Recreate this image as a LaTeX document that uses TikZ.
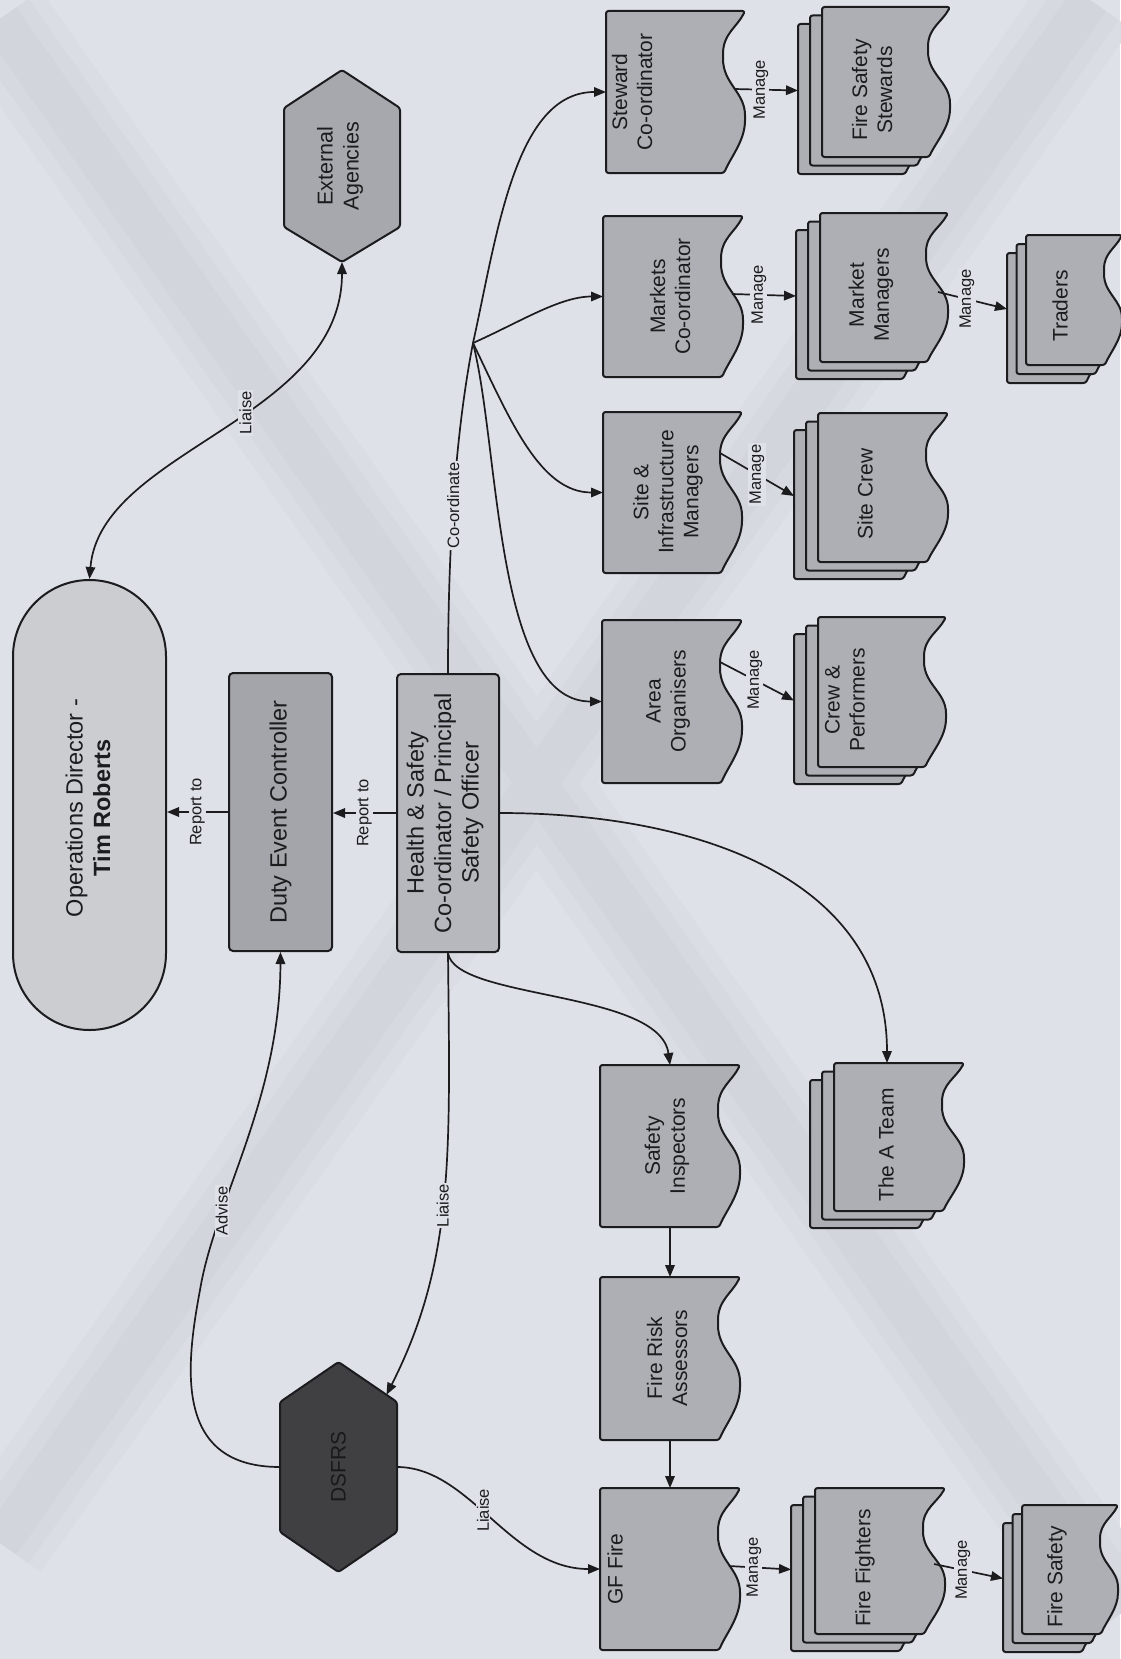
\documentclass[tikz,border=0pt]{standalone}
\usepackage{fontspec}
\setmainfont{Liberation Sans}
\usetikzlibrary{arrows.meta,calc}
\definecolor{bg}{RGB}{222,225,232}
\definecolor{banda}{RGB}{218,221,228}
\definecolor{bandb}{RGB}{214,217,224}
\definecolor{bandc}{RGB}{210,213,220}
\definecolor{ink}{RGB}{28,28,30}
\definecolor{pillc}{RGB}{203,205,209}
\definecolor{decc}{RGB}{163,165,170}
\definecolor{hsc}{RGB}{182,184,189}
\definecolor{docc}{RGB}{173,175,180}
\definecolor{extc}{RGB}{166,168,173}
\definecolor{dsc}{RGB}{64,64,67}
\definecolor{dstext}{RGB}{25,25,25}

% document outline: L T R B amplitude
\newcommand\docshape[5]{%
  \filldraw[outl, fill=docc]
  ({#1},{#2}) -- ({#3},{#2})
  .. controls ({#3-0.36*#5},{#2+0.1*(#4-#2)}) and ({#3-#5},{#2+0.14*(#4-#2)}) .. ({#3-#5},{#2+0.28*(#4-#2)})
  .. controls ({#3-#5},{#2+0.45*(#4-#2)}) and ({#3},{#2+0.5*(#4-#2)}) .. ({#3},{#2+0.66*(#4-#2)})
  .. controls ({#3},{#2+0.8*(#4-#2)}) and ({#3-0.64*#5},{#2+0.9*(#4-#2)}) .. ({#3-0.95*#5},{#4})
  -- ({#1},{#4}) -- cycle;}
% stack of three: front L T R B amplitude dx dy
\newcommand\stackshape[7]{%
  \docshape{(#1-2*#6)}{(#2+2*#7)}{(#3-2*#6)}{(#4+2*#7)}{#5}%
  \docshape{(#1-#6)}{(#2+#7)}{(#3-#6)}{(#4+#7)}{#5}%
  \docshape{#1}{#2}{#3}{#4}{#5}}
% invisible named box: name L T R B
\newcommand\docnode[5]{%
  \pgfmathsetmacro\mydw{#4-#2}%
  \pgfmathsetmacro\mydh{#5-#3}%
  \node[bbx, minimum width=\mydw pt, minimum height=\mydh pt] (#1) at ({(#2+#4)/2},{(#3+#5)/2}) {};}

\begin{document}
\begin{tikzpicture}[x=1pt,y=-1pt,
  line/.style={draw=ink, line width=1.7pt},
  arr/.style={line, -{Triangle[length=12pt,width=9.5pt]}},
  dbl/.style={line, {Triangle[length=12pt,width=9.5pt]}-{Triangle[length=12pt,width=9.5pt]}},
  lbl/.style={fill=bg, inner sep=1.2pt, rotate=90, text=ink, font=\fontsize{16.5}{18}\selectfont},
  txt/.style={rotate=90, align=center, text=ink, inner sep=0pt, font=\fontsize{21}{25}\selectfont},
  bigtxt/.style={txt, font=\fontsize{23.5}{27.5}\selectfont},
  bbx/.style={inner sep=0pt, outer sep=0pt, draw=none},
  outl/.style={draw=ink, line width=2pt, line join=round, rounded corners=2.5pt},
]
\useasboundingbox (0,0) rectangle (1120,1659);
\fill[bg] (0,0) rectangle (1120,1659);
% watermark X (soft bands)
\foreach \w/\c in {100/banda, 70/bandb, 40/bandc}{
  \draw[\c, line width=\w pt] (0,19) -- (1120,1614);
  \draw[\c, line width=\w pt] (1090,0) -- (0,1543);
}

% ---- main column ----
\node[draw=ink, line width=2pt, fill=pillc, minimum width=153pt, minimum height=450pt,
      rounded corners=76.5pt, inner sep=0pt] (pill) at (89.5,805) {};
\node[bigtxt] (pill-t) at (88,808) {Operations Director -\\\textbf{Tim Roberts}};

\node[draw=ink, line width=2pt, fill=decc, minimum width=103pt, minimum height=278pt,
      rounded corners=4pt, inner sep=0pt] (dec) at (280.5,812) {};
\node[bigtxt] (dec-t) at (dec) {Duty Event Controller};

\node[draw=ink, line width=2pt, fill=hsc, minimum width=102pt, minimum height=278pt,
      rounded corners=4pt, inner sep=0pt] (hs) at (448,813) {};
\node[bigtxt] (hs-t) at (445,813) {Health \& Safety\\Co-ordinator / Principal\\Safety Officer};

% External Agencies hexagon
\node[bbx, minimum width=116pt, minimum height=192pt] (extag) at (342,166) {};
\filldraw[outl, fill=extc] (342,70) -- (400,108) -- (400,227) -- (342,262) -- (284,227) -- (284,108) -- cycle;
\node[txt, font=\fontsize{21.5}{26}\selectfont] (extag-t) at (340,166) {External\\Agencies};

% DSFRS hexagon
\node[bbx, minimum width=117pt, minimum height=210pt] (dsfrs) at (338.5,1467) {};
\coordinate (dsfrs-ne) at (397,1402);
\filldraw[outl, fill=dsc] (338.5,1362) -- (dsfrs-ne) -- (397,1532) -- (338.5,1572) -- (280,1532) -- (280,1402) -- cycle;
\node[txt, text=dstext] (dsfrs-t) at (dsfrs) {DSFRS};

% ---- documents ----
\docshape{606}{11}{745}{173}{22}
\docshape{603}{216}{743}{377}{22}
\docshape{603}{412}{742}{573}{22}
\docshape{602}{620}{742}{783}{22}
\docshape{600}{1065}{740}{1227}{22}
\docshape{600}{1277}{740}{1440}{22}
\docshape{600}{1488}{740}{1650}{22}
\docnode{steward}{606}{11}{745}{173}
\docnode{markets}{603}{216}{743}{377}
\docnode{si}{603}{412}{742}{573}
\docnode{ao}{602}{620}{742}{783}
\docnode{safety}{600}{1065}{740}{1227}
\docnode{firerisk}{600}{1277}{740}{1440}
\docnode{gf}{600}{1488}{740}{1650}

% ---- stacks ----
\stackshape{822}{7}{950}{157}{22}{12}{8.5}
\stackshape{820}{213}{948}{362}{22}{12}{8.5}
\stackshape{818}{413}{948}{562}{22}{12}{8.5}
\stackshape{818}{617}{946}{767}{22}{12}{8.5}
\stackshape{834}{1063}{964}{1211}{22}{12}{8.5}
\stackshape{815}{1488}{945}{1634}{22}{12}{8.5}
\stackshape{1026}{235}{1122}{365}{18}{9.5}{9}
\stackshape{1022}{1505}{1118}{1634}{18}{9.5}{9}
\docnode{fss}{798}{7}{950}{174}
\docnode{mm}{796}{213}{948}{379}
\docnode{sitecrew}{794}{413}{948}{579}
\docnode{crewperf}{794}{617}{946}{784}
\docnode{ateam}{810}{1063}{964}{1228}
\docnode{ff}{791}{1488}{945}{1651}
\docnode{traders}{1007}{235}{1122}{383}
\docnode{fs}{1003}{1505}{1118}{1652}

% ---- texts ----
\node[txt] (steward-t) at (632,92) {Steward\\Co-ordinator};
\node[txt] (markets-t) at (670,296.5) {Markets\\Co-ordinator};
\node[txt] (si-t) at (668,492) {Site \&\\Infrastructure\\Managers};
\node[txt] (ao-t) at (668,701) {Area\\Organisers};
\node[txt] (safety-t) at (667,1146) {Safety\\Inspectors};
\node[txt] (firerisk-t) at (667,1358) {Fire Risk\\Assessors};
\node[txt] (gf-t) at (615,1569) {GF Fire};
\node[txt] (fss-t) at (872,90) {Fire Safety\\Stewards};
\node[txt] (mm-t) at (871,295) {Market\\Managers};
\node[txt] (sitecrew-t) at (865,494) {Site Crew};
\node[txt] (crewperf-t) at (845,700) {Crew \&\\Performers};
\node[txt] (ateam-t) at (886,1145) {The A Team};
\node[txt] (ff-t) at (865,1568) {Fire Fighters};
\node[txt] (traders-t) at (1060,306) {Traders};
\node[txt] (fs-t) at (1057,1577) {Fire Safety};

% ---- connectors ----
\draw[arr] (dec.west) -- (dec.west -| pill.east) node[lbl, midway] (l-rep1) {Report to};
\draw[arr] (hs.west) -- (hs.west -| dec.east) node[lbl, midway] (l-rep2) {Report to};
\draw[dbl] (pill.north) .. controls (100,450) and (342,420) .. (extag.south)
   node[lbl, pos=0.57] (l-liaise1) {Liaise};
\draw[arr] (dsfrs.west) .. controls (175,1467) and (185,1370) .. (200,1290)
   .. controls (215,1200) and (280,1100) .. (dec.south) node[lbl, pos=0.28] (l-advise) {Advise};
\coordinate (dsfrs-in) at ($(338.5,1362)!0.82!(dsfrs-ne)$);
\draw[arr] (hs.south) .. controls (450,1150) and (455,1260) .. (dsfrs-in)
   node[lbl, pos=0.52] (l-liaise2) {Liaise};
\draw[arr] (dsfrs.east) .. controls (470,1467) and (510,1569) .. (gf.west)
   node[lbl, pos=0.45] (l-liaise3) {Liaise};

\coordinate (hub) at (473,343);
\draw[line] (hs.north) .. controls (448,500) and (462,400) .. (hub)
   node[lbl, pos=0.38] (l-coord) {Co-ordinate};
\draw[arr] (hub) .. controls (497,235) and (515,92) .. (steward.west);
\draw[arr] (hub) .. controls (520,322) and (560,296.5) .. (markets.west);
\draw[arr] (hub) .. controls (510,420) and (540,492.5) .. (si.west);
\draw[arr] (hub) .. controls (500,450) and (495,701.5) .. (ao.west);

\draw[arr] (hs.south) .. controls (455,1000) and (660,990) .. (safety.north);
\draw[arr] (hs.east) .. controls (700,813) and (887,880) .. (ateam.north);
\draw[arr] (safety.south) -- (firerisk.north);
\draw[arr] (firerisk.south) -- (gf.north);

% Manage connectors
\coordinate (steward-o) at (734,89);
\coordinate (markets-o) at (732,294);
\coordinate (si-o) at (720,453);
\coordinate (ao-o) at (720,662);
\coordinate (gf-o) at (729,1566);
\coordinate (mm-o) at (938,292);
\coordinate (ff-o) at (934,1564);
\draw[arr] (steward-o) -- (fss.west) node[lbl, pos=0.42] (l-m1) {Manage};
\draw[arr] (markets-o) -- (mm.west) node[lbl, pos=0.42] (l-m2) {Manage};
\draw[arr] (si-o) -- (sitecrew.west) node[lbl, pos=0.5] (l-m3) {Manage};
\draw[arr] (ao-o) -- (crewperf.west) node[lbl, pos=0.47] (l-m4) {Manage};
\draw[arr] (gf-o) -- (ff.west) node[lbl, pos=0.4] (l-m5) {Manage};
\draw[arr] (mm-o) -- (traders.west) node[lbl, pos=0.42] (l-m6) {Manage};
\draw[arr] (ff-o) -- (fs.west) node[lbl, pos=0.42] (l-m7) {Manage};
\end{tikzpicture}
\end{document}
